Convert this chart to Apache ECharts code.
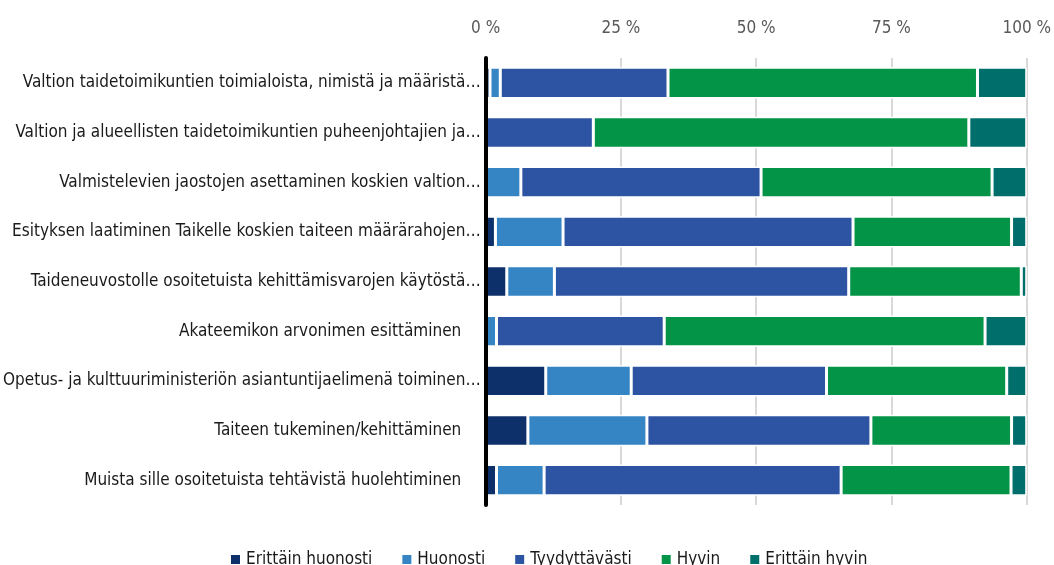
<!DOCTYPE html>
<html>
<head>
<meta charset="utf-8">
<script src="https://cdn.jsdelivr.net/npm/echarts@6/dist/echarts.min.js"></script>
<style>
  html, body { margin: 0; padding: 0; background: #fff; }
  #chart { width: 1054px; height: 565px; }
</style>
</head>
<body>
<div id="chart"></div>
<script>
var categories = [
  'Valtion taidetoimikuntien toimialoista, nimistä ja määristä…',
  'Valtion ja alueellisten taidetoimikuntien puheenjohtajien ja…',
  'Valmistelevien jaostojen asettaminen koskien valtion…',
  'Esityksen laatiminen Taikelle koskien taiteen määrärahojen…',
  'Taideneuvostolle osoitetuista kehittämisvarojen käytöstä…',
  'Akateemikon arvonimen esittäminen',
  'Opetus- ja kulttuuriministeriön asiantuntijaelimenä toiminen…',
  'Taiteen tukeminen/kehittäminen',
  'Muista sille osoitetuista tehtävistä huolehtiminen'
];

var seriesNames = ['Erittäin huonosti', 'Huonosti', 'Tyydyttävästi', 'Hyvin', 'Erittäin hyvin'];
var colors = ['#0e306a', '#3584c4', '#2d54a3', '#039447', '#006f6c'];

var erittainHuonosti = [0.8, 0, 0, 1.8, 3.9, 0, 11.1, 7.8, 2.0];
var huonosti = [1.9, 0, 6.5, 12.5, 8.8, 2.0, 15.8, 22.0, 8.8];
var tyydyttavasti = [31.0, 19.9, 44.4, 53.6, 54.4, 31.0, 36.1, 41.4, 54.9];
var hyvin = [57.2, 69.4, 42.7, 29.3, 31.9, 59.3, 33.3, 26.0, 31.4];
var erittainHyvin = [9.1, 10.7, 6.4, 2.8, 1.0, 7.7, 3.7, 2.8, 2.9];

var values = [erittainHuonosti, huonosti, tyydyttavasti, hyvin, erittainHyvin];

var font = "'Liberation Sans Narrow', 'DejaVu Sans Condensed', 'Roboto', sans-serif";

var chart = echarts.init(document.getElementById('chart'));

var series = seriesNames.map(function(name, i) {
  return {
    name: name,
    type: 'bar',
    stack: 'total',
    barCategoryGap: '37%',
    itemStyle: { color: colors[i], borderColor: '#fff', borderWidth: 1.5 },
    data: values[i]
  };
});

chart.setOption({
  animation: false,
  textStyle: { fontFamily: font },
  grid: { left: 483, right: 25, top: 58, bottom: 60 },
  legend: {
    left: 224,
    top: 546,
    icon: 'rect',
    itemWidth: 11,
    itemHeight: 11,
    itemGap: 28,
    textStyle: { fontFamily: font, fontSize: 17, color: '#1a1a1a' },
    data: seriesNames
  },
  xAxis: {
    type: 'value',
    position: 'top',
    min: 0,
    max: 100,
    interval: 25,
    axisLine: { show: false },
    axisTick: { show: false },
    axisLabel: { formatter: '{value} %', color: '#595959', fontSize: 17, margin: 21, fontFamily: font },
    splitLine: { show: true, lineStyle: { color: '#d9d9d9', width: 2 } }
  },
  yAxis: {
    type: 'category',
    inverse: true,
    z: 10,
    data: categories,
    axisLine: { show: true, lineStyle: { color: '#000', width: 4 } },
    axisTick: { show: false },
    axisLabel: {
      color: '#1a1a1a',
      fontSize: 17,
      margin: 5,
      fontFamily: font,
      formatter: function(v) {
        return v.charAt(v.length - 1) === '…' ? v : v + '    ';
      }
    }
  },
  series: series
});
</script>
</body>
</html>
